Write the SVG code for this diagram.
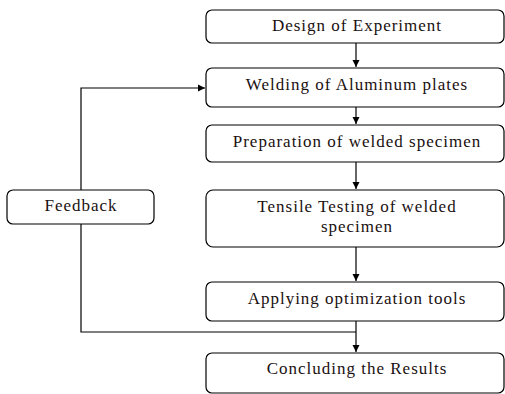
<svg xmlns="http://www.w3.org/2000/svg" width="505" height="394" viewBox="0 0 505 394">
<defs>
<marker id="ah" markerWidth="8" markerHeight="8" refX="7" refY="4" orient="auto" markerUnits="userSpaceOnUse">
<path d="M0,0.5 L7,4 L0,7.5 Z" fill="#000"/>
</marker>
<style>
.box{fill:#fff;stroke:#000;stroke-width:1.2}
.t{font-family:'Liberation Serif','Times New Roman',serif;font-size:17px;fill:#1a1010;text-anchor:middle;letter-spacing:1px}
.c{fill:none;stroke:#000;stroke-width:1.2}
</style>
</defs>
<rect width="505" height="394" fill="#fff"/>
<g id="connectors">
<line class="c" x1="356" y1="43" x2="356" y2="67" marker-end="url(#ah)"/>
<line class="c" x1="356" y1="107" x2="356" y2="124" marker-end="url(#ah)"/>
<line class="c" x1="356" y1="162" x2="356" y2="189" marker-end="url(#ah)"/>
<line class="c" x1="356" y1="247" x2="356" y2="281" marker-end="url(#ah)"/>
<line class="c" x1="356" y1="321" x2="356" y2="352" marker-end="url(#ah)"/>
<polyline class="c" points="81,224 81,332 356,332"/>
<polyline class="c" points="81,190 81,88 205,88" marker-end="url(#ah)"/>
</g>
<g id="n1"><rect class="box" x="206" y="10" width="298" height="33" rx="6"/><text class="t" x="357" y="31">Design of Experiment</text></g>
<g id="n2"><rect class="box" x="206" y="68" width="298" height="39" rx="6"/><text class="t" x="357" y="90">Welding of Aluminum plates</text></g>
<g id="n3"><rect class="box" x="206" y="125" width="298" height="37" rx="6"/><text class="t" x="357" y="147">Preparation of welded specimen</text></g>
<g id="n4"><rect class="box" x="206" y="190" width="298" height="57" rx="7"/><text class="t" x="357" y="212">Tensile Testing of welded</text><text class="t" x="357" y="232">specimen</text></g>
<g id="fb"><rect class="box" x="7" y="190" width="147" height="34" rx="6"/><text class="t" x="81" y="211">Feedback</text></g>
<g id="n5"><rect class="box" x="206" y="282" width="298" height="39" rx="6"/><text class="t" x="357" y="304">Applying optimization tools</text></g>
<g id="n6"><rect class="box" x="206" y="353" width="298" height="40" rx="6"/><text class="t" x="357" y="374">Concluding the Results</text></g>
</svg>
